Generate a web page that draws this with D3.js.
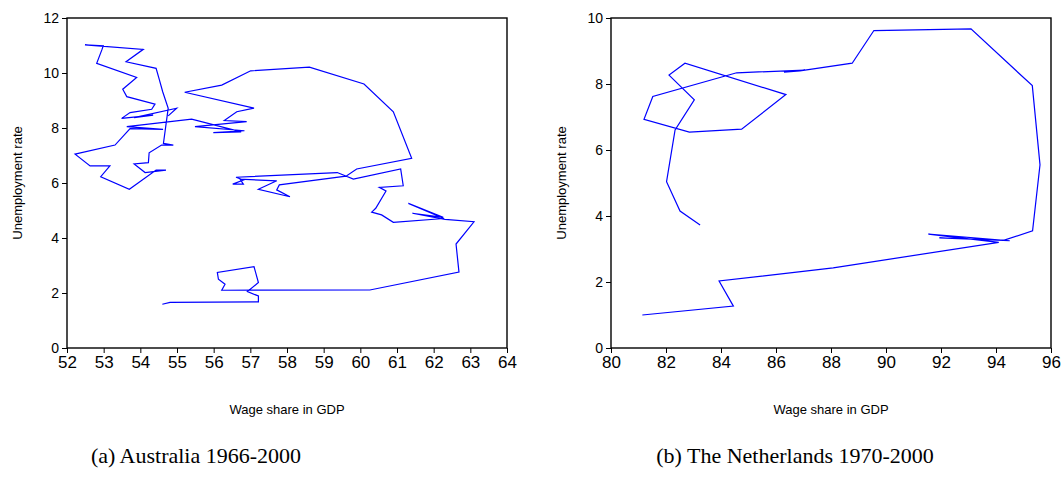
<!DOCTYPE html>
<html>
<head>
<meta charset="utf-8">
<script src="https://cdn.jsdelivr.net/npm/d3@7"></script>
<style>
  body { margin: 0; background: #fff; }
  .tick text { font-family: Arial, "Liberation Sans", sans-serif; fill: #000; }
  .tick line { stroke: #000; }
</style>
</head>
<body>
<svg id="chart" width="1063" height="481"></svg>
<script>
// Australia 1966-2000 (quarterly)
const ausWage = [54.60,54.81,57.22,57.22,56.92,57.22,57.10,56.10,56.13,56.31,56.22,60.26,62.69,62.61,63.10,
  62.31,61.42,62.26,61.31,62.28,60.90,60.58,60.31,60.42,60.70,60.52,61.17,61.10,59.81,59.37,
  56.61,56.81,56.52,56.81,56.72,57.72,57.22,58.08,57.72,57.79,59.61,59.90,61.40,
  60.90,60.10,58.61,57.01,56.22,55.21,57.10,56.63,56.29,
  56.90,55.49,56.84,55.99,56.75,55.40,53.63,54.62,53.72,53.31,52.22,52.63,53.17,52.92,53.70,
  54.43,54.70,54.13,53.83,54.22,54.24,54.58,54.90,54.63,54.76,54.61,54.52,54.43,53.61,54.08,
  52.49,52.99,52.95,52.81,53.90,53.52,53.63,54.40,54.31,53.72,53.49,54.35,53.83,54.99,54.76];
const ausUnemp = [1.59,1.66,1.68,1.89,2.05,2.38,2.96,2.75,2.50,2.32,2.10,2.11,2.76,3.78,4.59,
  4.68,4.90,4.75,5.26,4.71,4.57,4.84,4.94,5.08,5.71,5.84,5.90,6.51,6.14,6.38,
  6.21,6.11,5.96,5.96,6.14,6.08,5.77,5.50,5.75,5.93,6.25,6.51,6.90,
  8.59,9.60,10.21,10.08,9.56,9.30,8.72,8.59,8.27,
  8.23,8.05,7.90,7.83,7.86,8.32,8.05,7.95,7.98,7.38,7.05,6.62,6.62,6.23,5.77,
  6.47,6.47,6.38,6.69,6.74,7.10,7.38,7.38,7.44,8.72,9.32,9.75,10.17,10.41,10.86,
  11.02,10.99,10.84,10.35,9.84,9.41,9.14,8.87,8.68,8.56,8.35,8.47,8.38,8.72,8.44];

// The Netherlands 1970-2000 (annual)
const nlWage = [81.14,84.45,83.93,88.08,94.10,91.54,94.50,91.94,94.30,95.33,95.60,95.32,93.09,89.56,88.77,
  86.87,86.29,87.05,84.57,81.52,81.20,82.85,84.75,86.36,82.69,82.11,83.03,82.33,82.02,82.51,83.24];
const nlUnemp = [1.00,1.27,2.03,2.43,3.20,3.45,3.25,3.34,3.27,3.55,5.55,7.95,9.67,9.62,8.63,
  8.40,8.36,8.42,8.34,7.62,6.93,6.54,6.63,7.68,8.63,8.27,7.52,6.61,5.04,4.15,3.73];

const ausXTicks = d3.range(52, 65, 1);
const ausYTicks = [0, 2, 4, 6, 8, 10, 12];
const nlXTicks = d3.range(80, 97, 2);
const nlYTicks = [0, 2, 4, 6, 8, 10];

const xTitle = "Wage share in GDP";
const yTitle = "Unemployment rate";
const captions = ["(a) Australia 1966-2000", "(b) The Netherlands 1970-2000"];

const svg = d3.select("#chart");
const plotTop = 18, plotBottom = 348;

function panel(cfg) {
  const xScale = d3.scaleLinear().domain(cfg.xDomain).range([cfg.left, cfg.right]);
  const yScale = d3.scaleLinear().domain(cfg.yDomain).range([plotBottom, plotTop]);

  const g = svg.append("g");

  // frame
  g.append("rect")
    .attr("x", cfg.left).attr("y", plotTop)
    .attr("width", cfg.right - cfg.left).attr("height", plotBottom - plotTop)
    .attr("fill", "none").attr("stroke", "#000").attr("stroke-width", 1.4);

  const xAxis = d3.axisBottom(xScale).tickValues(cfg.xTicks).tickSize(5).tickPadding(3).tickFormat(d3.format("d"));
  const yAxis = d3.axisLeft(yScale).tickValues(cfg.yTicks).tickSize(5).tickPadding(3).tickFormat(d3.format("d"));

  g.append("g").attr("transform", `translate(0,${plotBottom})`).call(xAxis)
    .call(a => a.select(".domain").remove())
    .call(a => a.selectAll("text").style("font-size", "17px"));
  g.append("g").attr("transform", `translate(${cfg.left},0)`).call(yAxis)
    .call(a => a.select(".domain").remove())
    .call(a => a.selectAll("text").style("font-size", "14px"));

  const line = d3.line().x(d => xScale(d[0])).y(d => yScale(d[1]));
  g.append("path")
    .datum(d3.zip(cfg.xs, cfg.ys))
    .attr("d", line)
    .attr("fill", "none")
    .attr("stroke", "#0000ff")
    .attr("stroke-width", 1.2)
    .attr("stroke-linejoin", "miter");

  g.append("text")
    .attr("x", (cfg.left + cfg.right) / 2).attr("y", 414)
    .attr("text-anchor", "middle")
    .style("font-family", "Arial, 'Liberation Sans', sans-serif")
    .style("font-size", "13px")
    .text(xTitle);

  g.append("text")
    .attr("transform", `translate(${cfg.yTitleX},${(plotTop + plotBottom) / 2}) rotate(-90)`)
    .attr("text-anchor", "middle")
    .style("font-family", "Arial, 'Liberation Sans', sans-serif")
    .style("font-size", "13px")
    .text(yTitle);

  g.append("text")
    .attr("x", cfg.capX).attr("y", 463)
    .attr("text-anchor", "middle")
    .style("font-family", "'Times New Roman', 'Liberation Serif', serif")
    .style("font-size", "22px")
    .text(cfg.caption);
}

panel({ xDomain: [52, 64], yDomain: [0, 12], left: 67, right: 507, xTicks: ausXTicks, yTicks: ausYTicks,
  xs: ausWage, ys: ausUnemp, yTitleX: 22, capX: 196, caption: captions[0] });
panel({ xDomain: [80, 96], yDomain: [0, 10], left: 611, right: 1051, xTicks: nlXTicks, yTicks: nlYTicks,
  xs: nlWage, ys: nlUnemp, yTitleX: 566, capX: 795, caption: captions[1] });
</script>
</body>
</html>
